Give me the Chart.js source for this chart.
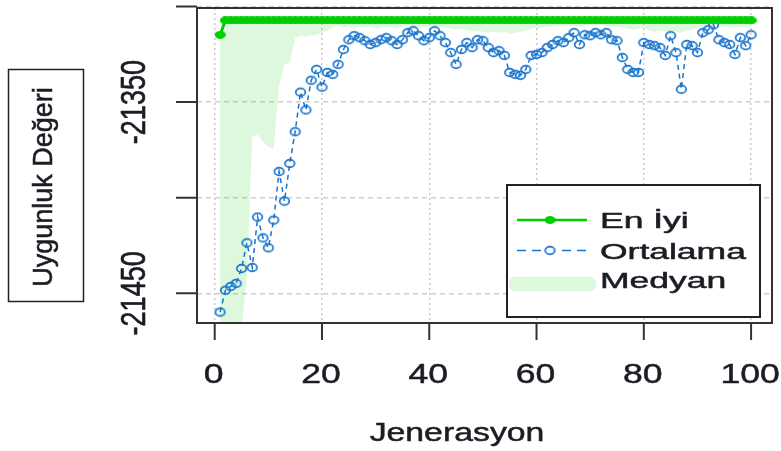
<!DOCTYPE html>
<html>
<head>
<meta charset="utf-8">
<script src="https://cdn.jsdelivr.net/npm/chart.js@4.4.1/dist/chart.umd.min.js"></script>
<style>
  html, body { margin: 0; padding: 0; background: #fff; }
  #wrap { width: 781px; height: 451px; }
</style>
</head>
<body>
<div id="wrap"><canvas id="gaChart" width="781" height="451"></canvas></div>
<script>
// generations 1..100 (x values)
const generations = Array.from({ length: 100 }, (_, i) => i + 1);

const bestFitness = [
  -21314.8, -21307.3, -21307.3, -21307.3, -21307.3, -21307.3, -21307.3, -21307.3, -21307.3, -21307.3,
  -21307.3, -21307.3, -21307.3, -21307.3, -21307.3, -21307.3, -21307.3, -21307.3, -21307.3, -21307.3,
  -21307.3, -21307.3, -21307.3, -21307.3, -21307.3, -21307.3, -21307.3, -21307.3, -21307.3, -21307.3,
  -21307.3, -21307.3, -21307.3, -21307.3, -21307.3, -21307.3, -21307.3, -21307.3, -21307.3, -21307.3,
  -21307.3, -21307.3, -21307.3, -21307.3, -21307.3, -21307.3, -21307.3, -21307.3, -21307.3, -21307.3,
  -21307.3, -21307.3, -21307.3, -21307.3, -21307.3, -21307.3, -21307.3, -21307.3, -21307.3, -21307.3,
  -21307.3, -21307.3, -21307.3, -21307.3, -21307.3, -21307.3, -21307.3, -21307.3, -21307.3, -21307.3,
  -21307.3, -21307.3, -21307.3, -21307.3, -21307.3, -21307.3, -21307.3, -21307.3, -21307.3, -21307.3,
  -21307.3, -21307.3, -21307.3, -21307.3, -21307.3, -21307.3, -21307.3, -21307.3, -21307.3, -21307.3,
  -21307.3, -21307.3, -21307.3, -21307.3, -21307.3, -21307.3, -21307.3, -21307.3, -21307.3, -21307.3
];

const meanFitness = [
  -21459.8, -21448.4, -21446.4, -21444.8, -21437.0, -21423.6, -21436.5, -21410.1, -21421.0, -21426.2,
  -21411.7, -21386.3, -21401.8, -21382.1, -21365.5, -21344.8, -21354.1, -21338.6, -21332.9, -21342.2,
  -21334.5, -21335.5, -21330.3, -21322.5, -21317.4, -21315.3, -21316.3, -21317.9, -21319.9, -21318.9,
  -21317.4, -21316.3, -21317.9, -21319.9, -21317.4, -21313.7, -21312.7, -21315.3, -21317.9, -21316.3,
  -21312.7, -21315.3, -21318.9, -21324.1, -21330.3, -21322.5, -21318.9, -21321.5, -21317.4, -21317.9,
  -21321.5, -21324.1, -21323.1, -21325.6, -21334.5, -21335.5, -21336.0, -21332.9, -21325.6, -21325.1,
  -21324.1, -21321.5, -21319.9, -21317.9, -21318.9, -21316.3, -21313.7, -21319.9, -21314.8, -21315.3,
  -21313.7, -21314.8, -21313.7, -21317.4, -21317.9, -21326.7, -21332.9, -21334.5, -21334.5, -21318.9,
  -21319.9, -21320.5, -21321.5, -21325.6, -21315.3, -21324.1, -21343.3, -21319.9, -21320.5, -21324.1,
  -21313.7, -21312.2, -21309.6, -21317.4, -21318.9, -21319.9, -21325.1, -21316.3, -21320.5, -21314.8
];

const medianFitness = [
  -21477.0, -21477.0, -21477.0, -21477.0, -21469.2, -21441.7, -21368.1, -21367.1, -21370.7, -21373.3,
  -21374.4, -21341.2, -21330.3, -21329.3, -21316.3, -21315.3, -21315.8, -21315.3, -21314.8, -21313.7,
  -21312.7, -21311.1, -21310.1, -21311.1, -21310.6, -21311.7, -21310.6, -21311.1, -21310.6, -21311.7,
  -21311.1, -21310.6, -21311.1, -21311.7, -21310.6, -21310.1, -21310.6, -21311.1, -21310.6, -21310.6,
  -21310.1, -21310.6, -21311.1, -21311.7, -21312.2, -21311.7, -21312.2, -21313.2, -21312.7, -21313.2,
  -21313.7, -21313.2, -21313.7, -21313.2, -21314.2, -21313.7, -21313.2, -21312.7, -21311.7, -21311.1,
  -21311.1, -21310.6, -21310.6, -21310.1, -21310.6, -21310.1, -21310.1, -21310.6, -21310.1, -21309.6,
  -21310.1, -21309.6, -21310.1, -21310.6, -21310.6, -21311.1, -21311.7, -21312.2, -21311.7, -21311.1,
  -21312.7, -21313.2, -21312.7, -21313.2, -21312.7, -21313.2, -21313.7, -21312.7, -21312.2, -21311.1,
  -21310.6, -21310.1, -21309.6, -21310.6, -21310.6, -21311.1, -21311.1, -21310.6, -21311.1, -21310.6
];

const xTicks = [0, 20, 40, 60, 80, 100];
const yTicks = [-21450, -21400, -21350, -21300];
const yTickLabels = ['-21450', '', '-21350', ''];
const seriesLabels = ['En İyi', 'Ortalama', 'Medyan'];
const xTitle = 'Jenerasyon';
const yTitle = 'Uygunluk Değeri';

const GREEN = '#00CD00';
const BLUE = '#1874CD';
const FILL = 'rgba(0, 200, 0, 0.13)';
const INK = '#1c1c24';
const FONT = '"Liberation Sans", Arial, sans-serif';

// R plots look horizontally stretched here, so markers are ellipses
function ellipseSprite(w, h, fill, stroke, lw) {
  const c = document.createElement('canvas');
  c.width = w;
  c.height = h;
  const g = c.getContext('2d');
  const inset = stroke ? lw : 0;
  g.beginPath();
  g.ellipse(w / 2, h / 2, w / 2 - inset, h / 2 - inset, 0, 0, Math.PI * 2);
  if (fill) { g.fillStyle = fill; g.fill(); }
  if (stroke) { g.lineWidth = lw; g.strokeStyle = stroke; g.stroke(); }
  return c;
}

const dotGreen = ellipseSprite(11, 8, GREEN, null, 0);
const ringBlue = ellipseSprite(13, 11, null, BLUE, 1.7);

function stretchedText(ctx, text, x, y, size, sx, align, rotated) {
  ctx.save();
  ctx.translate(x, y);
  ctx.scale(sx, 1);
  if (rotated) ctx.rotate(-Math.PI / 2);
  ctx.font = size + 'px ' + FONT;
  ctx.textAlign = align;
  ctx.textBaseline = 'alphabetic';
  ctx.fillStyle = INK;
  ctx.strokeStyle = INK;
  ctx.lineWidth = 0.5;
  ctx.fillText(text, 0, 0);
  ctx.strokeText(text, 0, 0);
  ctx.restore();
}

// box, ticks, labels, legend - drawn R style on top of the chart
const rDecor = {
  id: 'rDecor',
  afterDraw(chart) {
    const { ctx, chartArea: a } = chart;
    const xs = chart.scales.x;
    const ys = chart.scales.y;

    ctx.save();
    ctx.strokeStyle = '#333';
    ctx.lineWidth = 2;
    ctx.strokeRect(a.left, a.top, a.right - a.left, a.bottom - a.top);

    ctx.beginPath();
    xTicks.forEach(v => {
      const px = xs.getPixelForValue(v);
      ctx.moveTo(px, a.bottom);
      ctx.lineTo(px, a.bottom + 17);
    });
    yTicks.forEach(v => {
      const py = ys.getPixelForValue(v);
      ctx.moveTo(a.left, py);
      ctx.lineTo(a.left - 21, py);
    });
    ctx.stroke();
    ctx.restore();

    xTicks.forEach(v => {
      stretchedText(ctx, String(v), xs.getPixelForValue(v) - 1, a.bottom + 60, 28, 1.27, 'center', false);
    });
    yTickLabels.forEach((lab, i) => {
      if (lab) stretchedText(ctx, lab, a.left - 52, ys.getPixelForValue(yTicks[i]), 27, 1.29, 'center', true);
    });

    stretchedText(ctx, xTitle, 457, 441, 26, 1.3, 'center', false);

    // y title in a framed box
    ctx.save();
    ctx.strokeStyle = '#222';
    ctx.lineWidth = 1.5;
    ctx.strokeRect(8.5, 69.5, 75, 232);
    ctx.restore();
    stretchedText(ctx, yTitle, 52, 187, 27, 1.05, 'center', true);

    // legend
    const lg = { left: 507, top: 185, right: 760, bottom: 317 };
    const rowY = [220, 250.5, 280];
    ctx.save();
    ctx.fillStyle = '#fff';
    ctx.fillRect(lg.left, lg.top, lg.right - lg.left, lg.bottom - lg.top);
    ctx.strokeStyle = '#222';
    ctx.lineWidth = 2;
    ctx.strokeRect(lg.left, lg.top, lg.right - lg.left, lg.bottom - lg.top);

    ctx.strokeStyle = GREEN;
    ctx.lineWidth = 2.5;
    ctx.beginPath();
    ctx.moveTo(517, rowY[0]);
    ctx.lineTo(587, rowY[0]);
    ctx.stroke();
    ctx.drawImage(dotGreen, 550 - dotGreen.width / 2, rowY[0] - dotGreen.height / 2);

    ctx.strokeStyle = BLUE;
    ctx.lineWidth = 1.5;
    ctx.setLineDash([9, 6]);
    ctx.beginPath();
    ctx.moveTo(517, rowY[1]);
    ctx.lineTo(587, rowY[1]);
    ctx.stroke();
    ctx.setLineDash([]);
    ctx.fillStyle = '#fff';
    ctx.fillRect(544, rowY[1] - 5, 12, 10);
    ctx.drawImage(ringBlue, 550 - ringBlue.width / 2, rowY[1] - ringBlue.height / 2);

    ctx.strokeStyle = FILL;
    ctx.lineWidth = 15;
    ctx.lineCap = 'round';
    ctx.beginPath();
    ctx.moveTo(516, rowY[2] + 4);
    ctx.lineTo(589, rowY[2] + 4);
    ctx.stroke();
    ctx.restore();

    seriesLabels.forEach((lab, i) => {
      stretchedText(ctx, lab, 600, rowY[i] + 8, 21.5, 1.65, 'left', false);
    });
  }
};

const toPoints = vals => generations.map((g, i) => ({ x: g, y: vals[i] }));

new Chart(document.getElementById('gaChart'), {
  type: 'line',
  data: {
    datasets: [
      {
        label: seriesLabels[0],
        data: toPoints(bestFitness),
        borderColor: GREEN,
        borderWidth: 3,
        pointStyle: dotGreen,
        pointRadius: 5,
        fill: false,
        order: 1
      },
      {
        label: seriesLabels[1],
        data: toPoints(meanFitness),
        borderColor: BLUE,
        borderWidth: 1.5,
        borderDash: [5, 4],
        pointStyle: ringBlue,
        pointRadius: 6,
        fill: false,
        order: 2
      },
      {
        label: seriesLabels[2],
        data: toPoints(medianFitness),
        borderColor: 'rgba(0,0,0,0)',
        borderWidth: 0,
        backgroundColor: FILL,
        pointRadius: 0,
        fill: 0,
        order: 3
      }
    ]
  },
  options: {
    responsive: false,
    animation: false,
    devicePixelRatio: 1,
    events: [],
    layout: { padding: { left: 197, top: 5, right: 9, bottom: 128 } },
    plugins: {
      legend: { display: false },
      tooltip: { enabled: false },
      filler: { drawTime: 'beforeDatasetsDraw' }
    },
    scales: {
      x: {
        type: 'linear',
        min: -3.3,
        max: 103.9,
        afterBuildTicks: s => { s.ticks = xTicks.map(v => ({ value: v })); },
        ticks: { display: false },
        grid: { color: '#c8c8c8', lineWidth: 1.5, drawTicks: false },
        border: { display: false, dash: [2, 3] }
      },
      y: {
        type: 'linear',
        min: -21465.5,
        max: -21300.8,
        afterBuildTicks: s => { s.ticks = yTicks.map(v => ({ value: v })); },
        ticks: { display: false },
        grid: { color: '#cfcfcf', lineWidth: 1.5, drawTicks: false },
        border: { display: false, dash: [5, 4] }
      }
    }
  },
  plugins: [rDecor]
});
</script>
</body>
</html>
